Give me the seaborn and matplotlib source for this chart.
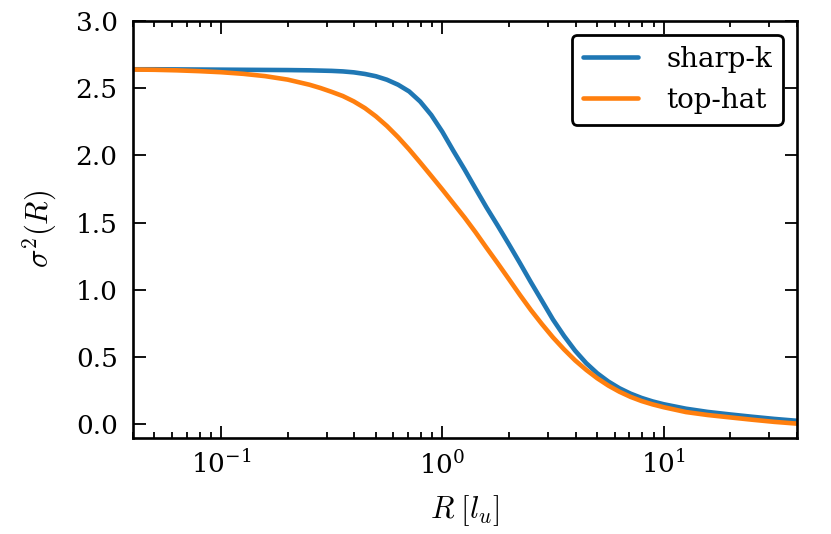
import numpy as np
import pandas as pd
import seaborn as sns
import matplotlib
matplotlib.use("Agg")
import matplotlib.pyplot as plt
from matplotlib.ticker import LogLocator, MultipleLocator

# valores (R em l_u)
R = [0.04, 0.0501, 0.0631, 0.0794, 0.1, 0.126, 0.158, 0.2, 0.251, 0.282, 0.316, 0.355,
     0.398, 0.447, 0.501, 0.562, 0.631, 0.708, 0.794, 0.891, 1.0, 1.12, 1.26, 1.41, 1.58,
     1.78, 2.0, 2.24, 2.51, 2.82, 3.16, 3.55, 3.98, 4.47, 5.01, 5.62, 6.31, 7.08, 7.94,
     8.91, 10.0, 12.6, 15.8, 20.0, 25.1, 31.6, 40.0]

sigma_sharp = [2.640, 2.640, 2.639, 2.638, 2.637, 2.636, 2.635, 2.634, 2.632, 2.630, 2.628,
               2.624, 2.617, 2.605, 2.588, 2.562, 2.525, 2.475, 2.400, 2.300, 2.175, 2.035,
               1.895, 1.755, 1.615, 1.477, 1.338, 1.200, 1.058, 0.918, 0.780, 0.657, 0.548,
               0.455, 0.380, 0.319, 0.269, 0.229, 0.197, 0.171, 0.150, 0.117, 0.093, 0.074,
               0.057, 0.041, 0.027]

sigma_tophat = [2.638, 2.636, 2.632, 2.626, 2.618, 2.606, 2.589, 2.563, 2.525, 2.500, 2.472,
                2.441, 2.401, 2.351, 2.290, 2.218, 2.135, 2.044, 1.947, 1.847, 1.746, 1.644,
                1.538, 1.430, 1.315, 1.197, 1.079, 0.963, 0.851, 0.745, 0.647, 0.557, 0.476,
                0.405, 0.343, 0.289, 0.243, 0.205, 0.174, 0.149, 0.128, 0.092, 0.070, 0.052,
                0.035, 0.019, 0.006]

nomes = ['sharp-k', 'top-hat']
cores = ['#1f77b4', '#ff7f0e']

df = pd.concat([
    pd.DataFrame({'R': R, 'sigma2': sigma_sharp, 'filtro': nomes[0]}),
    pd.DataFrame({'R': R, 'sigma2': sigma_tophat, 'filtro': nomes[1]}),
])

sns.set_style("ticks", {'axes.edgecolor': 'black', 'text.color': 'black',
                        'axes.labelcolor': 'black', 'xtick.color': 'black',
                        'ytick.color': 'black'})
plt.rcParams['font.family'] = ['DejaVu Serif']
plt.rcParams['mathtext.fontset'] = 'cm'
plt.rcParams['axes.unicode_minus'] = False

fig = plt.figure(figsize=(8.31, 5.34), dpi=100)
ax = fig.add_axes([0.160, 0.180, 0.799, 0.781])

sns.lineplot(data=df, x='R', y='sigma2', hue='filtro', palette=cores,
             linewidth=3.3, ax=ax, sort=False, estimator=None)

ax.set_xscale('log')
ax.set_xlim(0.04, 40)
ax.set_ylim(-0.1, 3.0)
ax.yaxis.set_major_locator(MultipleLocator(0.5))
ax.xaxis.set_minor_locator(LogLocator(base=10, subs=np.arange(2, 10)))

for s in ax.spines.values():
    s.set_visible(True)
    s.set_linewidth(1.9)
    s.set_color('black')

ax.tick_params(which='both', direction='in', top=True, right=True, width=1.3,
               labelsize=19, colors='black')
ax.tick_params(which='major', length=9)
ax.tick_params(which='minor', length=4.5)
ax.tick_params(axis='y', pad=11)
ax.tick_params(axis='x', pad=9)

ax.set_xlabel(r'$R\;[l_u]$', fontsize=22, labelpad=10)
ax.set_ylabel(r'$\sigma^2(R)$', fontsize=22, labelpad=12)

leg = ax.legend(loc='upper right', fontsize=20, frameon=True, fancybox=True,
                handletextpad=1.0, borderaxespad=0.5)
leg.get_frame().set_edgecolor('black')
leg.get_frame().set_linewidth(2)
leg.get_frame().set_alpha(1)
for line in leg.get_lines():
    line.set_linewidth(3.3)

fig.savefig('out.png', dpi=100)
